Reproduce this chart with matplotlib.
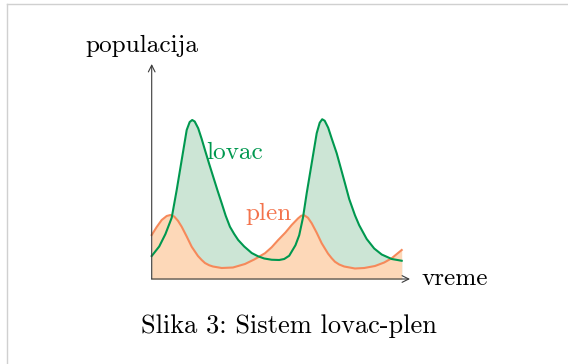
import matplotlib
matplotlib.use('Agg')
import matplotlib.pyplot as plt
from matplotlib.lines import Line2D

# lovac (predator) curve
lovac_t = [0, 0.3, 0.55, 0.8, 1.0, 1.2, 1.4, 1.52, 1.62, 1.72, 1.86, 2.0, 2.13, 2.3, 2.46,
           2.63, 2.8, 2.96, 3.13, 3.3, 3.46, 3.7, 4.0, 4.25, 4.5, 4.8, 5.1, 5.3, 5.5, 5.75,
           5.9, 6.05, 6.2, 6.4, 6.6, 6.72, 6.82, 6.92, 7.06, 7.2, 7.4, 7.56, 7.73, 7.9, 8.13,
           8.3, 8.6, 8.9, 9.2, 9.6, 10.0]
lovac_y = [0.92, 1.3, 1.8, 2.45, 3.56, 4.76, 5.96, 6.28, 6.36, 6.3, 6.03, 5.6, 5.16, 4.6, 4.09,
           3.55, 3.03, 2.53, 2.09, 1.8, 1.56, 1.3, 1.04, 0.91, 0.82, 0.77, 0.76, 0.8, 0.93, 1.35,
           1.75, 2.45, 3.43, 4.63, 5.83, 6.25, 6.39, 6.33, 6.05, 5.62, 5.03, 4.45, 3.83, 3.2, 2.55,
           2.15, 1.6, 1.22, 0.98, 0.8, 0.73]

# plen (prey) curve
plen_t = [0, 0.2, 0.4, 0.6, 0.75, 0.9, 1.05, 1.2, 1.4, 1.6, 1.85, 2.0, 2.13, 2.3, 2.45, 2.8,
          3.25, 3.73, 4.1, 4.53, 4.8, 5.06, 5.35, 5.6, 5.85, 5.98, 6.1, 6.25, 6.4, 6.6, 6.8,
          7.05, 7.2, 7.33, 7.5, 7.7, 8.13, 8.5, 8.93, 9.3, 9.6, 10.0]
plen_y = [1.76, 2.08, 2.36, 2.52, 2.56, 2.5, 2.33, 2.09, 1.7, 1.29, 0.92, 0.76, 0.64, 0.55, 0.5, 0.44,
          0.46, 0.6, 0.78, 1.03, 1.27, 1.56, 1.86, 2.16, 2.42, 2.53, 2.55, 2.45, 2.23, 1.85, 1.43,
          1.02, 0.83, 0.69, 0.58, 0.5, 0.42, 0.44, 0.52, 0.66, 0.83, 1.16]

x_label = 'vreme'
y_label = 'populacija'
lovac_label = 'lovac'
plen_label = 'plen'
caption = 'Slika 3: Sistem lovac-plen'

W, H = 568, 364
PX = 25.0            # pixels per unit
X0, Y0 = 151.7, 279  # origin in pixels (from top-left)

green = '#00984f'
green_fill = '#cce5d5'
orange = '#f6895a'
orange_fill = '#fdd8b8'
orange_txt = '#f3734c'
axis_col = '#3a3a3a'
font = 'cmr10'
fs = 18.2

fig = plt.figure(figsize=(W / 100, H / 100), dpi=100)
ax = fig.add_axes([0, 0, 1, 1])
ax.set_xlim(-X0 / PX, (W - X0) / PX)
ax.set_ylim(-(H - Y0) / PX, Y0 / PX)
ax.axis('off')


def px(x, y):
    return (x - X0) / PX, (Y0 - y) / PX


# light frame on top and left
fig.add_artist(Line2D([7 / W, 1], [1 - 4 / H, 1 - 4 / H], transform=fig.transFigure,
                      color='#d0d0d0', lw=1.0))
fig.add_artist(Line2D([7 / W, 7 / W], [0, 1 - 4 / H], transform=fig.transFigure,
                      color='#d0d0d0', lw=1.0))

ax.fill_between(lovac_t, 0, lovac_y, color=green_fill, lw=0, zorder=1)
ax.fill_between(plen_t, 0, plen_y, color=orange_fill, lw=0, zorder=2)
ax.plot(plen_t, plen_y, color=orange, lw=1.5, zorder=3, solid_joinstyle='round')
ax.plot(lovac_t, lovac_y, color=green, lw=1.5, zorder=4, solid_joinstyle='round')

# axes with arrows
xend = px(410, 0)[0]
yend = px(0, 64)[1]
ax.annotate('', xy=(xend, 0), xytext=(0, 0),
            arrowprops=dict(arrowstyle='->', color=axis_col, lw=0.8, shrinkA=0, shrinkB=0,
                            mutation_scale=12), zorder=5)
ax.annotate('', xy=(0, yend), xytext=(0, 0),
            arrowprops=dict(arrowstyle='->', color=axis_col, lw=0.8, shrinkA=0, shrinkB=0,
                            mutation_scale=12), zorder=5)

ax.text(*px(85, 51.5), y_label, family=font, fontsize=fs, ha='left', va='baseline')
ax.text(*px(421.5, 285), x_label, family=font, fontsize=fs, ha='left', va='baseline')
ax.text(*px(206.5, 159.3), lovac_label, family=font, fontsize=fs, color=green,
        ha='left', va='baseline', zorder=6)
ax.text(*px(245, 220), plen_label, family=font, fontsize=fs, color=orange_txt,
        ha='left', va='baseline', zorder=6)
ax.text(*px(289.2, 333.3), caption, family=font, fontsize=19.0, ha='center', va='baseline')

fig.savefig('out.png', dpi=100)
